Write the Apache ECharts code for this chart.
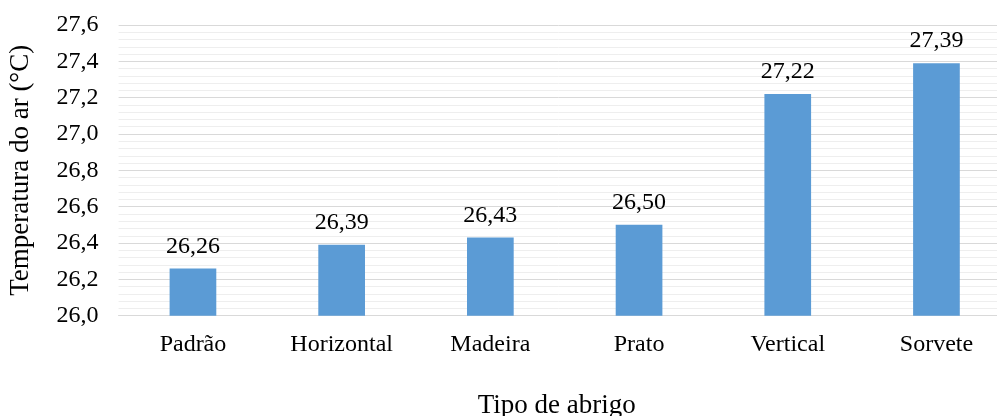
<!DOCTYPE html>
<html>
<head>
<meta charset="utf-8">
<script src="https://cdn.jsdelivr.net/npm/echarts@6/dist/echarts.min.js"></script>
<style>
  html, body { margin: 0; padding: 0; background: #ffffff; }
  #chart { width: 997px; height: 416px; }
</style>
</head>
<body>
<div id="chart"></div>
<script>
// Air temperature by shelter type
const categories = ['Padrão', 'Horizontal', 'Madeira', 'Prato', 'Vertical', 'Sorvete'];
const temperatures = [26.26, 26.39, 26.43, 26.50, 27.22, 27.39];
const yMin = 26.0;
const yMax = 27.6;
const yStep = 0.2;

const fontFamily = '"Liberation Serif", "Times New Roman", serif';
const fmtComma = (v, digits) => Number(v).toFixed(digits).replace('.', ',');

const chart = echarts.init(document.getElementById('chart'), null, { renderer: 'canvas' });

chart.setOption({
  backgroundColor: '#ffffff',
  animation: false,
  textStyle: { fontFamily: fontFamily, color: '#000000' },
  grid: {
    left: 118.6, top: 25, width: 892.2, height: 290.7,
    containLabel: false,
    outerBoundsMode: 'none'
  },
  xAxis: {
    type: 'category',
    data: categories,
    name: 'Tipo de abrigo',
    nameLocation: 'middle',
    nameGap: 77,
    nameTextStyle: { fontFamily: fontFamily, fontSize: 27, color: '#000000', padding: [0, 16, 0, 0] },
    axisLine: { show: true, lineStyle: { color: '#d9d9d9', width: 1 } },
    axisTick: { show: false },
    axisLabel: { fontFamily: fontFamily, fontSize: 24, color: '#000000', margin: 17 },
    splitLine: { show: false }
  },
  yAxis: {
    type: 'value',
    min: yMin,
    max: yMax,
    interval: yStep,
    name: 'Temperatura do ar (°C)',
    nameLocation: 'middle',
    nameGap: 84,
    nameRotate: 90,
    nameTextStyle: { fontFamily: fontFamily, fontSize: 27, color: '#000000' },
    axisLine: { show: false },
    axisTick: { show: false },
    axisLabel: {
      fontFamily: fontFamily, fontSize: 24, color: '#000000', margin: 20,
      formatter: v => fmtComma(v, 1)
    },
    splitLine: { show: true, lineStyle: { color: '#d9d9d9', width: 1 } },
    minorTick: { show: false, splitNumber: 5 },
    minorSplitLine: { show: true, lineStyle: { color: '#eeeeee', width: 1 } }
  },
  series: [{
    type: 'bar',
    data: temperatures,
    barWidth: '31.4%',
    itemStyle: { color: '#5b9bd5' },
    label: {
      show: true,
      position: 'top',
      distance: 10,
      fontFamily: fontFamily,
      fontSize: 24,
      color: '#000000',
      formatter: p => fmtComma(p.value, 2)
    }
  }]
});
</script>
</body>
</html>
